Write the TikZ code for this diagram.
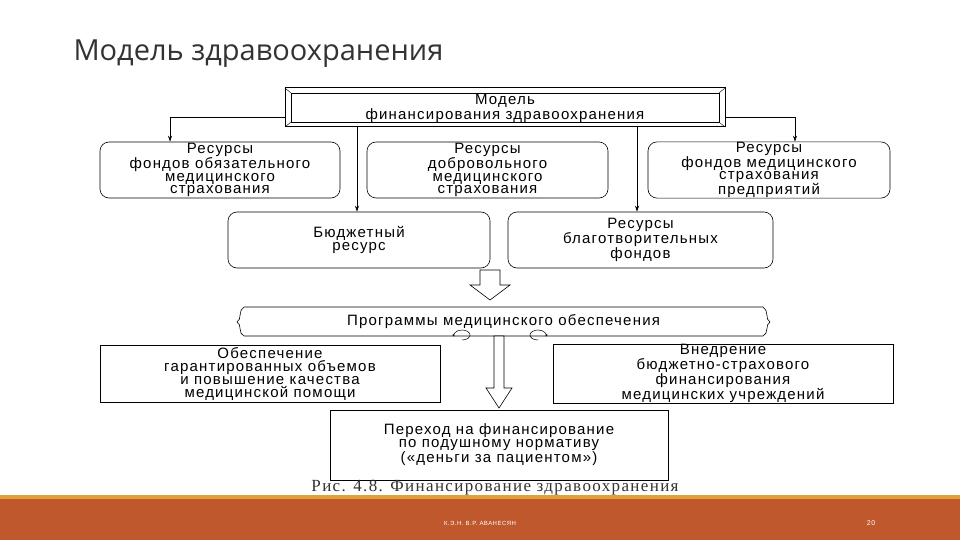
\documentclass[tikz,border=0pt]{standalone}
\usepackage{fontspec}
\setmainfont{Liberation Sans}[LetterSpace=8]
\newfontfamily\titlefont{Open Sans}
\newfontfamily\capfont{Liberation Serif}[LetterSpace=8]
\usetikzlibrary{arrows.meta,shapes.arrows}
\definecolor{foot}{HTML}{C0582E}
\definecolor{footline}{HTML}{E3A03A}
\begin{document}
\begin{tikzpicture}[x=1pt,y=-1pt,
  rbox/.style={draw,rounded corners=9pt,line width=0.6pt,align=center,font=\fontsize{15}{12.5}\selectfont,inner sep=0pt},
  sbox/.style={draw,line width=0.7pt,align=center,font=\fontsize{15}{13}\selectfont,inner sep=0pt},
  arr/.style={-{Stealth[length=6pt,width=4pt]},line width=0.6pt}]
\useasboundingbox (0,0) rectangle (960,540);
\fill[white] (0,0) rectangle (960,540);
\node[anchor=west,font=\titlefont\fontsize{29}{30}\selectfont,text=black!80] (title) at (70,54) {Модель здравоохранения};
% top box
\draw[line width=1pt] (285,88) rectangle (725,127);
\draw[line width=0.6pt] (291,93) rectangle (719,122);
\foreach \a/\b in {285/291,725/719}{\draw[line width=0.4pt] (\a,88)--(\b,93) (\a,127)--(\b,122);}
\node[align=center,font=\fontsize{15}{12.5}\selectfont] (top) at (505,108) {Модель\\финансирования здравоохранения};
\coordinate (topL) at (285,117); \coordinate (topR) at (725,117);
\node[rbox,minimum width=240,minimum height=56] (r1) at (220,170) {Ресурсы\\фондов обязательного\\медицинского\\страхования};
\node[rbox,minimum width=241,minimum height=56] (r2) at (487.5,170) {Ресурсы\\добровольного\\медицинского\\страхования};
\node[rbox,minimum width=242,minimum height=56] (r3) at (769,170) {Ресурсы\\фондов медицинского\\страхования\\предприятий};
\node[rbox,minimum width=262,minimum height=56] (b1) at (359,240) {Бюджетный\\ресурс};
\node[rbox,minimum width=265,minimum height=56] (b2) at (640.5,240) {Ресурсы\\благотворительных\\фондов};
\draw[arr] (topL) -| (r1.north -| 170,0);
\draw[arr] (topR) -| (r3.north -| 795,0);
\draw[arr] (357,127) -- (b1.north -| 357,0);
\draw[arr] (637,127) -- (b2.north -| 637,0);
% hollow arrow
\draw[line width=0.6pt] (480,270)--(500,270)--(500,285)--(510,285)--(490,300)--(470,285)--(480,285)--cycle;
% programs box
\node[font=\fontsize{15}{12}\selectfont,minimum width=533,minimum height=29,inner sep=0pt] (prog) at (503.5,322) {Программы медицинского обеспечения};
\draw[line width=0.6pt] (244,307) -- (763,307) (244,336)--(763,336)
  (244,307) .. controls (238,310) and (242,320) .. (237,322) .. controls (242,324) and (238,334) .. (244,336)
  (763,307) .. controls (769,310) and (765,320) .. (770,322) .. controls (765,324) and (769,334) .. (763,336);
\node[sbox,minimum width=340,minimum height=57] (ob) at (270,373.5) {Обеспечение\\гарантированных объемов\\и повышение качества\\медицинской помощи};
\node[sbox,minimum width=340,minimum height=57] (vn) at (723,373.5) {Внедрение\\бюджетно-страхового\\финансирования\\медицинских учреждений};
\node[sbox,minimum width=338,minimum height=70] (per) at (499,445) {Переход на финансирование\\по подушному нормативу\\(«деньги за пациентом»)};
% central hollow arrow
\draw[line width=0.6pt,fill=white] (494,336)--(504,336)--(504,388)--(512,388)--(499,408)--(486,388)--(494,388)--cycle;
% circular arrows
\draw[line width=0.5pt,-{Stealth[length=3pt]}] (462,340) arc[start angle=90,end angle=-200,x radius=8,y radius=5];
\draw[line width=0.5pt,-{Stealth[length=3pt]}] (538,340) arc[start angle=90,end angle=380,x radius=8,y radius=5];
\node[font=\capfont\fontsize{17}{18}\selectfont,text=black!80] (cap) at (495,488) {Рис. 4.8. Финансирование здравоохранения};
% footer
\fill[footline] (0,495) rectangle (960,499);
\fill[foot] (0,499) rectangle (960,540);
\node[font=\fontsize{6}{6}\selectfont,text=white] (auth) at (480,523) {К.Э.Н. В.Р. АВАНЕСЯН};
\node[font=\fontsize{7}{8}\selectfont,text=white] (pg) at (871,523) {20};
\end{tikzpicture}
\end{document}
